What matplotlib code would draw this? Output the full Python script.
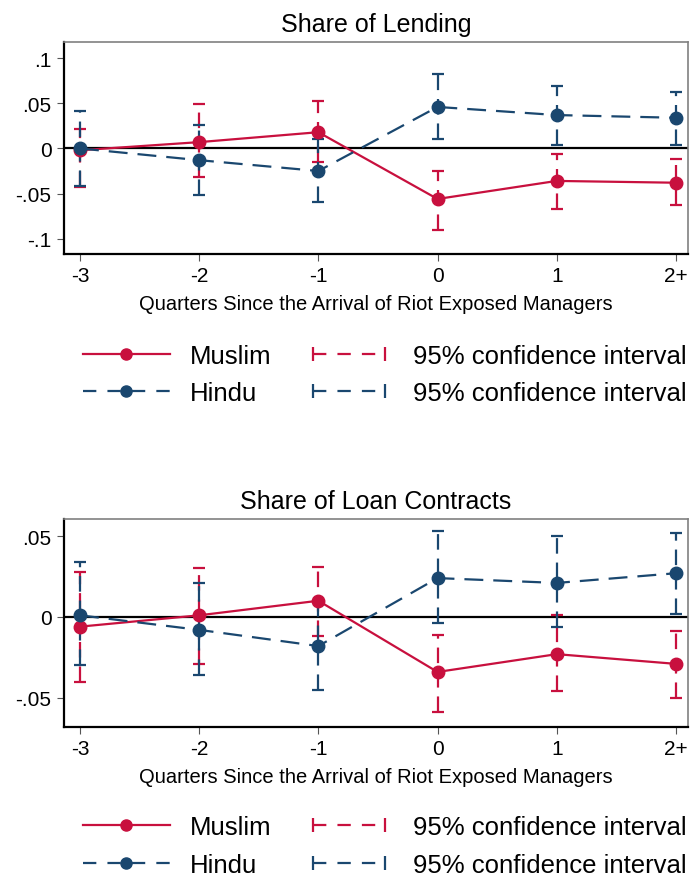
import numpy as np
import matplotlib
matplotlib.use('Agg')
from matplotlib import pyplot as plt
from matplotlib.lines import Line2D
from matplotlib.legend_handler import HandlerLine2D

plt.rcParams['font.family'] = ['Liberation Sans', 'DejaVu Sans']

# event time categories
quarters = ['-3', '-2', '-1', '0', '1', '2+']

# Share of Lending
lend_muslim = [-0.002, 0.007, 0.018, -0.056, -0.036, -0.038]
lend_muslim_lo = [-0.043, -0.032, -0.015, -0.090, -0.067, -0.063]
lend_muslim_hi = [0.022, 0.049, 0.053, -0.025, -0.006, -0.012]
lend_hindu = [0.000, -0.013, -0.025, 0.046, 0.037, 0.034]
lend_hindu_lo = [-0.042, -0.052, -0.059, 0.010, 0.004, 0.004]
lend_hindu_hi = [0.042, 0.026, 0.010, 0.082, 0.069, 0.063]

# Share of Loan Contracts
loan_muslim = [-0.006, 0.001, 0.010, -0.034, -0.023, -0.029]
loan_muslim_lo = [-0.040, -0.029, -0.012, -0.059, -0.046, -0.050]
loan_muslim_hi = [0.028, 0.030, 0.031, -0.011, 0.001, -0.009]
loan_hindu = [0.001, -0.008, -0.018, 0.024, 0.021, 0.027]
loan_hindu_lo = [-0.030, -0.036, -0.045, -0.004, -0.006, 0.002]
loan_hindu_hi = [0.034, 0.021, 0.009, 0.053, 0.050, 0.052]

lend_yticks = [-0.1, -0.05, 0, 0.05, 0.1]
lend_ylabels = ['-.1', '-.05', '0', '.05', '.1']
loan_yticks = [-0.05, 0, 0.05]
loan_ylabels = ['-.05', '0', '.05']

RED = '#C8103E'
BLUE = '#1A476F'
DASH = (0, (7, 4))

fig = plt.figure(figsize=(6.9, 8.79), dpi=100)
ax1 = fig.add_axes([0.0928, 0.7099, 0.904, 0.2412])
ax2 = fig.add_axes([0.0928, 0.1718, 0.904, 0.2366])

x = np.arange(len(quarters))


def ci(ax, y, lo, hi, color):
    y = np.array(y)
    err = [y - np.array(lo), np.array(hi) - y]
    eb = ax.errorbar(x, y, yerr=err, fmt='none', ecolor=color, elinewidth=1.6,
                     capsize=4.5, capthick=1.6)
    eb[2][0].set_linestyle(DASH)
    return eb


def panel(ax, title, m, mlo, mhi, h, hlo, hhi, yticks, ylabels, ylim):
    ax.axhline(0, color='black', lw=1.6, zorder=1)
    ci(ax, m, mlo, mhi, RED)
    ci(ax, h, hlo, hhi, BLUE)
    ax.plot(x, m, color=RED, lw=1.6, marker='o', ms=9, zorder=3)
    ax.plot(x, h, color=BLUE, lw=1.6, ls=(0, (8.5, 4.5)), marker='o', ms=9, zorder=3)
    ax.set_xlim(-0.134, 5.1)
    ax.set_ylim(*ylim)
    ax.set_xticks(x)
    ax.set_xticklabels(quarters, fontsize=15)
    ax.set_yticks(yticks)
    ax.set_yticklabels(ylabels, fontsize=15)
    ax.tick_params(length=5, color='#555555', pad=4)
    ax.set_xlabel('Quarters Since the Arrival of Riot Exposed Managers', fontsize=14.5, labelpad=6)
    ax.set_title(title, fontsize=18, pad=8)
    for s in ['left', 'bottom']:
        ax.spines[s].set_color('black')
        ax.spines[s].set_linewidth(1.6)
    for s in ['top', 'right']:
        ax.spines[s].set_color('#808080')
        ax.spines[s].set_linewidth(1.2)

    h_m = Line2D([], [], color=RED, lw=1.6, marker='o', ms=8)
    h_h = Line2D([], [], color=BLUE, lw=1.6, ls=(0, (6, 5)), marker='o', ms=8)
    h_cm = Line2D([], [], color=RED, lw=1.6, ls=(0, (6, 5)), marker='|', ms=10, mew=1.6)
    h_ch = Line2D([], [], color=BLUE, lw=1.6, ls=(0, (6, 5)), marker='|', ms=10, mew=1.6)
    hm = {h_cm: HandlerLine2D(numpoints=2), h_ch: HandlerLine2D(numpoints=2),
          h_m: HandlerLine2D(numpoints=1), h_h: HandlerLine2D(numpoints=1)}
    ax.legend([h_m, h_h, h_cm, h_ch],
              ['Muslim', 'Hindu', '95% confidence interval', '95% confidence interval'],
              ncol=2, frameon=False, fontsize=18.5, handlelength=3.4, handletextpad=0.78,
              columnspacing=1.3, labelspacing=0.52, borderpad=0, borderaxespad=0,
              handler_map=hm, loc='upper left', bbox_to_anchor=(0.03, -0.425))


panel(ax1, 'Share of Lending', lend_muslim, lend_muslim_lo, lend_muslim_hi,
      lend_hindu, lend_hindu_lo, lend_hindu_hi, lend_yticks, lend_ylabels, (-0.117, 0.118))
panel(ax2, 'Share of Loan Contracts', loan_muslim, loan_muslim_lo, loan_muslim_hi,
      loan_hindu, loan_hindu_lo, loan_hindu_hi, loan_yticks, loan_ylabels, (-0.068, 0.0605))

fig.savefig('out.png', dpi=100)
